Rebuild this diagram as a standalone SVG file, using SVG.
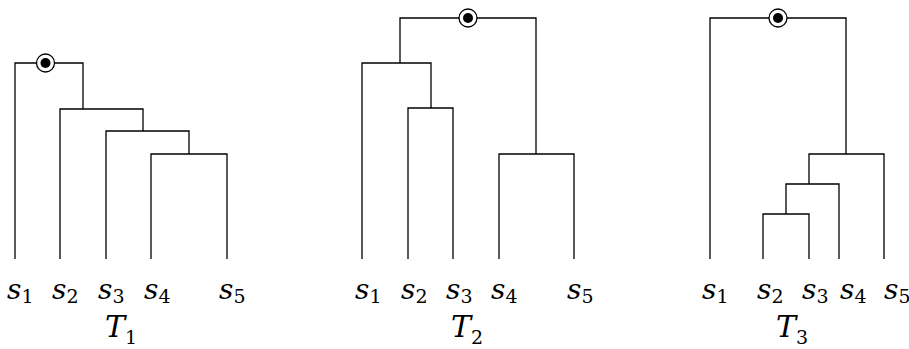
<svg xmlns="http://www.w3.org/2000/svg" width="909" height="349" viewBox="0 0 909 349">
<style>
.e{fill:none;stroke:#000;stroke-width:1.3;stroke-linejoin:miter}
.lbl{font-family:"DejaVu Serif",serif;font-size:28px;font-style:italic;fill:#000}
.ttl{font-size:30px}
.sub{font-style:normal;font-size:19px}
.ro{fill:#fff;stroke:#000;stroke-width:1.3}
.ri{fill:#000}
</style>
<rect width="909" height="349" fill="#fff"/>
<g id="connectors">
  <g id="edges-T1">
    <path class="e" d="M15,259 V63 H83 V109"/>
    <path class="e" d="M60,259 V109 H143 V131"/>
    <path class="e" d="M106,259 V131 H189 V154"/>
    <path class="e" d="M151,259 V154 H227 V259"/>
  </g>
  <g id="edges-T2">
    <path class="e" d="M400,63 V18 H536 V154"/>
    <path class="e" d="M362,259 V63 H431 V108"/>
    <path class="e" d="M408,259 V108 H453 V259"/>
    <path class="e" d="M499,259 V154 H574 V259"/>
  </g>
  <g id="edges-T3">
    <path class="e" d="M710,259 V18 H846 V154"/>
    <path class="e" d="M809,184 V154 H884 V259"/>
    <path class="e" d="M786,214 V184 H839 V259"/>
    <path class="e" d="M763,259 V214 H809 V259"/>
  </g>
</g>
<g id="root-T1"><circle class="ro" cx="45.5" cy="63" r="9"/><circle class="ri" cx="45.5" cy="63" r="5"/></g>
<g id="root-T2"><circle class="ro" cx="468" cy="18" r="9"/><circle class="ri" cx="468" cy="18" r="5"/></g>
<g id="root-T3"><circle class="ro" cx="778" cy="18" r="9"/><circle class="ri" cx="778" cy="18" r="5"/></g>
<g id="leaves-T1" class="lbl">
  <text x="7" y="299">s<tspan class="sub" dy="4">1</tspan></text>
  <text x="52" y="299">s<tspan class="sub" dy="4">2</tspan></text>
  <text x="98" y="299">s<tspan class="sub" dy="4">3</tspan></text>
  <text x="144" y="299">s<tspan class="sub" dy="4">4</tspan></text>
  <text x="219" y="299">s<tspan class="sub" dy="4">5</tspan></text>
</g>
<g id="leaves-T2" class="lbl">
  <text x="355" y="299">s<tspan class="sub" dy="4">1</tspan></text>
  <text x="401" y="299">s<tspan class="sub" dy="4">2</tspan></text>
  <text x="446" y="299">s<tspan class="sub" dy="4">3</tspan></text>
  <text x="491" y="299">s<tspan class="sub" dy="4">4</tspan></text>
  <text x="567" y="299">s<tspan class="sub" dy="4">5</tspan></text>
</g>
<g id="leaves-T3" class="lbl">
  <text x="702" y="299">s<tspan class="sub" dy="4">1</tspan></text>
  <text x="757" y="299">s<tspan class="sub" dy="4">2</tspan></text>
  <text x="802" y="299">s<tspan class="sub" dy="4">3</tspan></text>
  <text x="840" y="299">s<tspan class="sub" dy="4">4</tspan></text>
  <text x="884" y="299">s<tspan class="sub" dy="4">5</tspan></text>
</g>
<g id="titles" class="lbl ttl">
  <text id="title-T1" x="105" y="337">T<tspan class="sub" dy="7">1</tspan></text>
  <text id="title-T2" x="451" y="337">T<tspan class="sub" dy="7">2</tspan></text>
  <text id="title-T3" x="776" y="337">T<tspan class="sub" dy="7">3</tspan></text>
</g>
</svg>
